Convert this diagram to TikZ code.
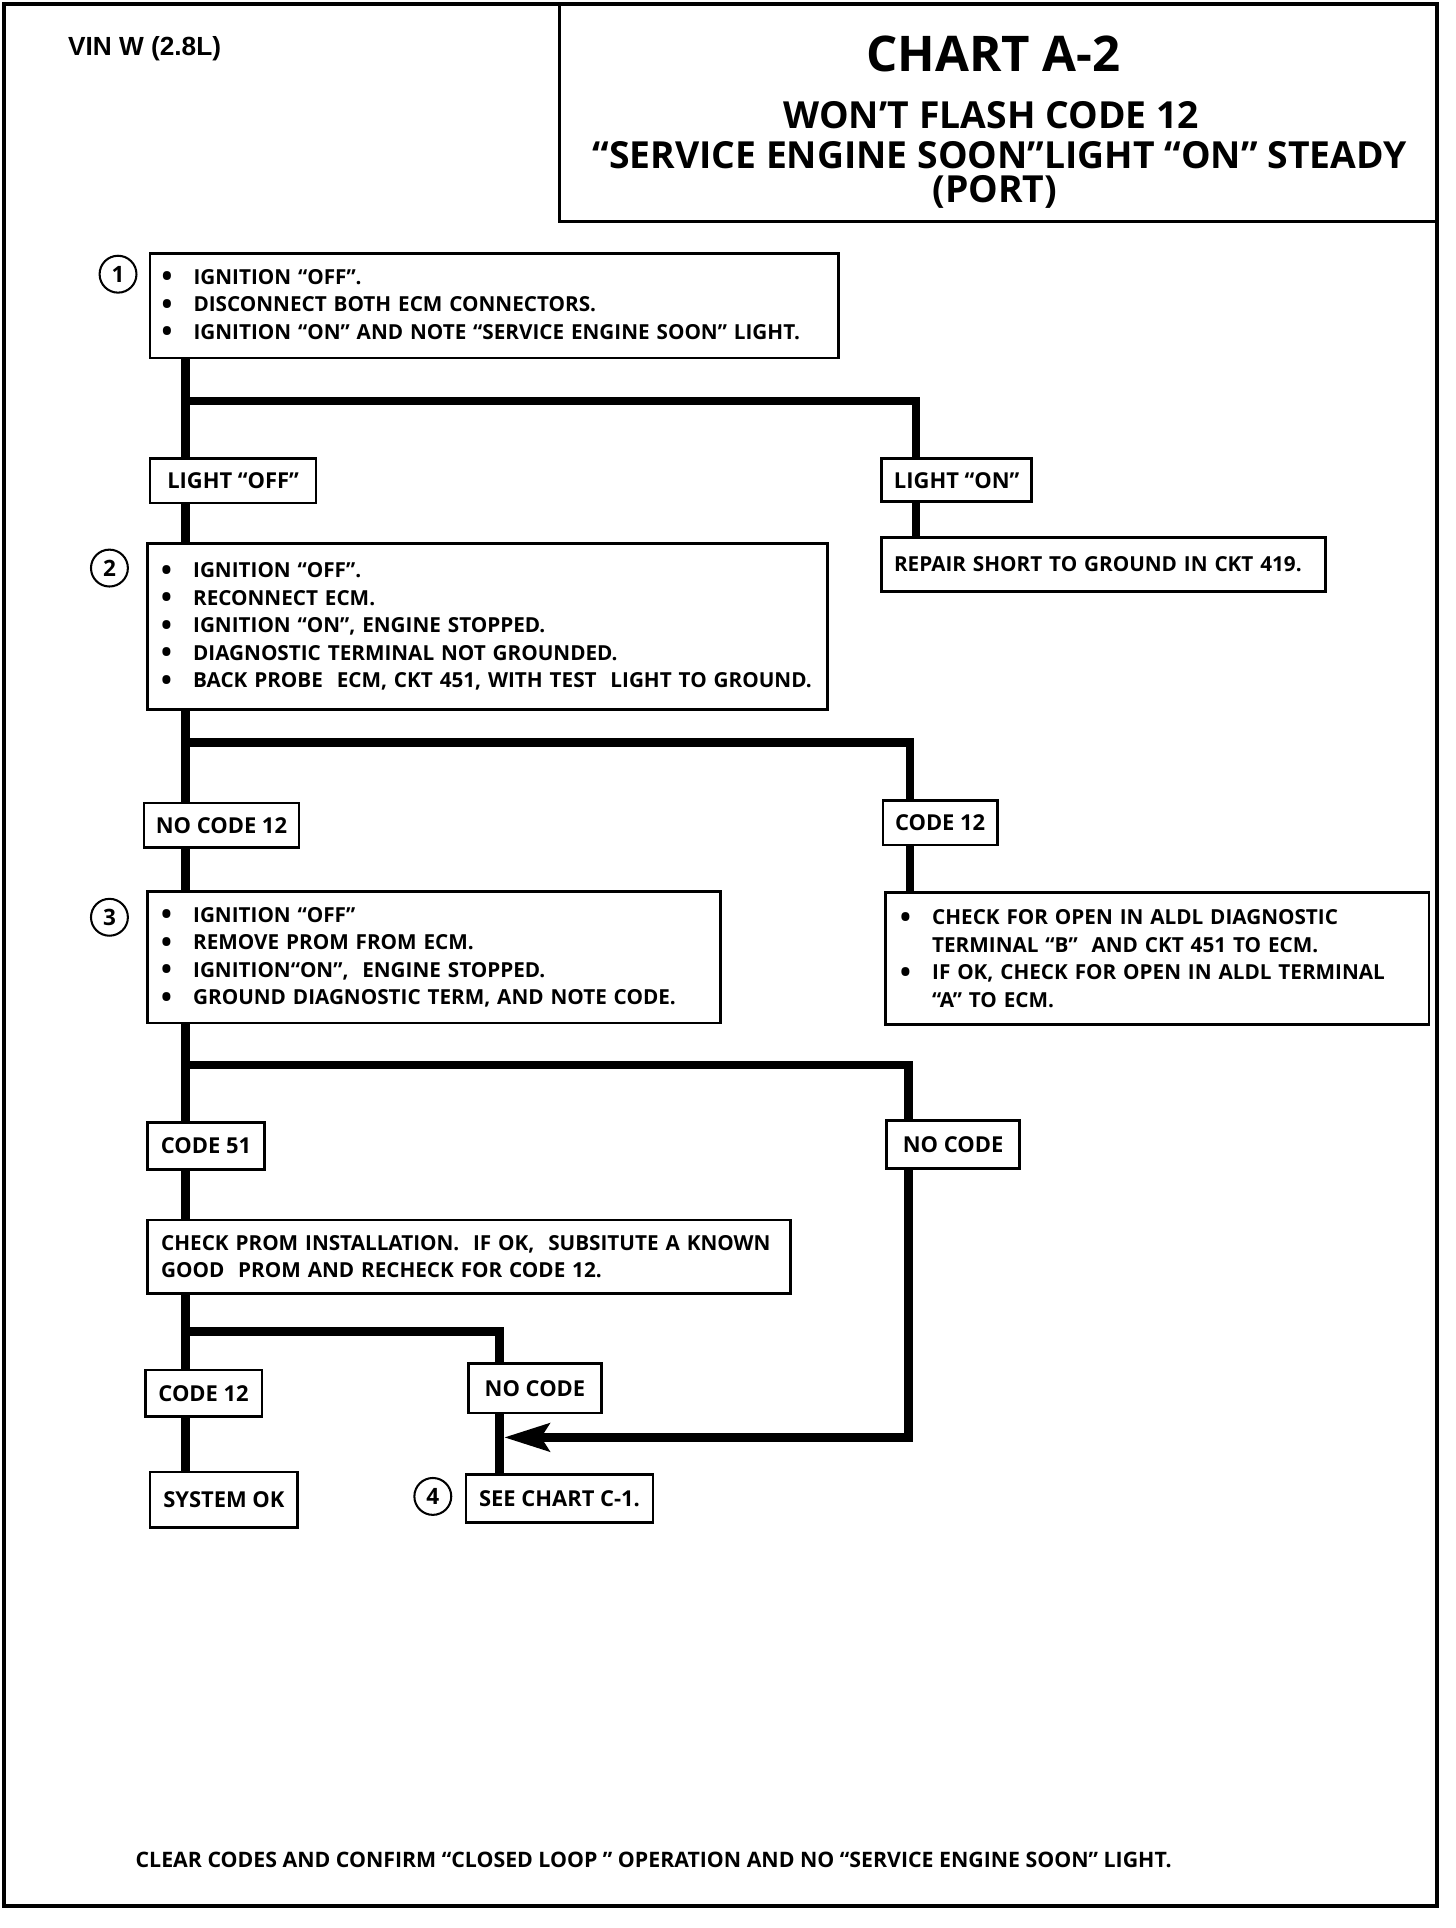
\documentclass[tikz,border=0pt]{standalone}
\usepackage{fontspec}
\setmainfont{Open Sans}
\newfontfamily\arialf{Liberation Sans}
\usetikzlibrary{arrows.meta,calc}
\newcommand\bul{\makebox[15.6pt][l]{\raisebox{-1.2pt}{\fontsize{14}{0}\selectfont •}}}
\newcommand\ind{\hspace*{15.6pt}}
\newcommand\mktext[8]{%
  \pgfmathsetlengthmacro\tw{(#6-#4)*0.6pt-2*#2}%
  \pgfmathsetlengthmacro\bh{(#7-#5)*0.6pt}%
  \node[#1, anchor=north west, inner xsep=#2, inner ysep=0pt, text width=\tw, minimum height=\bh, align=left] (#3) at (#4,#5) {#8};}
\newcommand\mklbl[7]{%
  \pgfmathsetlengthmacro\bw{(#5-#3)*0.6pt}%
  \pgfmathsetlengthmacro\bh{(#6-#4)*0.6pt}%
  \node[#1, anchor=north west, inner sep=0pt, minimum width=\bw, minimum height=\bh] (#2) at (#3,#4) {#7};}
\begin{document}
\begin{tikzpicture}[x=0.6pt,y=-0.6pt,
  frame/.style={line width=2pt},
  tbox/.style={draw, line width=1.3pt, font=\bfseries\fontsize{10.1}{13.4}\selectfont},
  rbox/.style={draw, line width=1.3pt, font=\bfseries\fontsize{10.1}{13.4}\selectfont},
  lbl/.style={draw, line width=1.3pt, font=\bfseries\fontsize{10.7}{12}\selectfont},
  con/.style={line width=4.2pt, line join=miter},
  num/.style={draw, circle, line width=1pt, minimum size=18pt, inner sep=0pt, font=\bfseries\fontsize{11}{12}\selectfont},
  ttl/.style={font=\bfseries\fontsize{24}{28}\selectfont, inner sep=0pt},
  sub/.style={font=\bfseries\fontsize{18.2}{20}\selectfont, inner sep=0pt}]
\useasboundingbox (0,0) rectangle (1184,1568);
\fill[white] (0,0) rectangle (1184,1568);
% frame and title box
\draw[frame] (3,3) rectangle (1169,1550);
\draw[line width=1.5pt] (455,3) rectangle (1168,180);
\node[font=\arialf\bfseries\fontsize{12.8}{14}\selectfont, anchor=west, inner sep=0pt] (vin) at (55,40) {VIN W (2.8L)};
\node[ttl] (t1) at (808,44) {CHART A-2};
\node[sub] (t2) at (806,94) {WON’T FLASH CODE 12};
\node[sub] (t3) at (813,126) {“SERVICE ENGINE SOON”LIGHT “ON” STEADY};
\node[sub] (t4) at (809,156) {(PORT)};
% step boxes
\mktext{tbox}{5.6pt}{b1}{121}{205}{681}{290}{\bul IGNITION “OFF”.\\\bul DISCONNECT BOTH ECM CONNECTORS.\\\bul IGNITION “ON” AND NOTE “SERVICE ENGINE SOON” LIGHT.}
\mktext{tbox}{6.6pt}{b2}{119}{441}{672}{576}{\bul IGNITION “OFF”.\\\bul RECONNECT ECM.\\\bul IGNITION “ON”, ENGINE STOPPED.\\\bul DIAGNOSTIC TERMINAL NOT GROUNDED.\\\bul BACK PROBE~ ECM, CKT 451, WITH TEST~ LIGHT TO GROUND.}
\mktext{tbox}{6.6pt}{b3}{119}{724}{585}{831}{\bul IGNITION “OFF”\\\bul REMOVE PROM FROM ECM.\\\bul IGNITION“ON”,~ ENGINE STOPPED.\\\bul GROUND DIAGNOSTIC TERM, AND NOTE CODE.}
\mktext{rbox}{7.2pt}{rb}{719}{725}{1161}{832}{\bul CHECK FOR OPEN IN ALDL DIAGNOSTIC\\\ind TERMINAL “B”~ AND CKT 451 TO ECM.\\\bul IF OK, CHECK FOR OPEN IN ALDL TERMINAL\\\ind “A” TO ECM.}
\mktext{rbox}{6pt}{rep}{716}{436}{1077}{480}{REPAIR SHORT TO GROUND IN CKT 419.}
\mktext{tbox}{6.6pt}{prom}{119}{991}{642}{1051}{CHECK PROM INSTALLATION.~ IF OK,~ SUBSITUTE A KNOWN\\GOOD~ PROM AND RECHECK FOR CODE 12.}
% label boxes
\mklbl{lbl}{loff}{121}{372}{256}{408}{LIGHT “OFF”}
\mklbl{lbl}{lon}{716}{372}{838}{407}{LIGHT “ON”}
\mklbl{lbl}{noc12}{116}{652}{242}{688}{NO CODE 12}
\mklbl{lbl}{c12a}{717}{650}{810}{686}{CODE 12}
\mklbl{lbl}{c51}{119}{912}{214}{950}{CODE 51}
\mklbl{lbl}{noca}{720}{910}{828}{949}{NO CODE}
\mklbl{lbl}{c12b}{117}{1113}{212}{1151}{CODE 12}
\mklbl{lbl}{nocb}{380}{1108}{488}{1148}{NO CODE}
\mklbl{lbl}{sysok}{121}{1196}{241}{1241}{SYSTEM OK}
\mklbl{lbl}{seec}{378}{1198}{530}{1237}{SEE CHART C-1.}
% numbers
\node[num] (n1) at (96,223) {1};
\node[num] (n2) at (89,462) {2};
\node[num] (n3) at (89,746) {3};
\node[num] (n4) at (352,1217) {4};
% junctions
\coordinate (ja) at (151,326); \coordinate (jb) at (745,326);
\coordinate (jc) at (151,604); \coordinate (jd) at (740,604);
\coordinate (je) at (151,866); \coordinate (jf) at (739,866);
\coordinate (jg) at (151,1083); \coordinate (jh) at (406,1083);
\coordinate (ji) at (739,1169); \coordinate (jk) at (410,1169);
% connectors
\draw[con] (b1.south -| ja) -- (loff.north -| ja);
\draw[con] (ja) -- (jb) -- (lon.north -| jb);
\draw[con] (lon.south -| jb) -- (rep.north -| jb);
\draw[con] (loff.south -| ja) -- (b2.north -| ja);
\draw[con] (b2.south -| jc) -- (noc12.north -| jc);
\draw[con] (jc) -- (jd) -- (c12a.north -| jd);
\draw[con] (c12a.south -| jd) -- (rb.north -| jd);
\draw[con] (noc12.south -| jc) -- (b3.north -| jc);
\draw[con] (b3.south -| je) -- (c51.north -| je);
\draw[con] (je) -- (jf) -- (noca.north -| jf);
\draw[con] (c51.south -| je) -- (prom.north -| je);
\draw[con] (prom.south -| jg) -- (c12b.north -| jg);
\draw[con] (jg) -- (jh) -- (nocb.north -| jh);
\draw[con] (c12b.south -| jg) -- (sysok.north -| jg);
\draw[con] (nocb.south -| jh) -- (seec.north -| jh);
\draw[con, -{Stealth[length=22pt, width=13.5pt, inset=4pt]}] (noca.south -| ji) -- (ji) -- (jk);
% footer
\node[font=\bfseries\fontsize{10.4}{12}\selectfont, anchor=west, inner sep=0pt] (foot) at (110,1513) {CLEAR CODES AND CONFIRM “CLOSED LOOP ” OPERATION AND NO “SERVICE ENGINE SOON” LIGHT.};
\end{tikzpicture}
\end{document}
